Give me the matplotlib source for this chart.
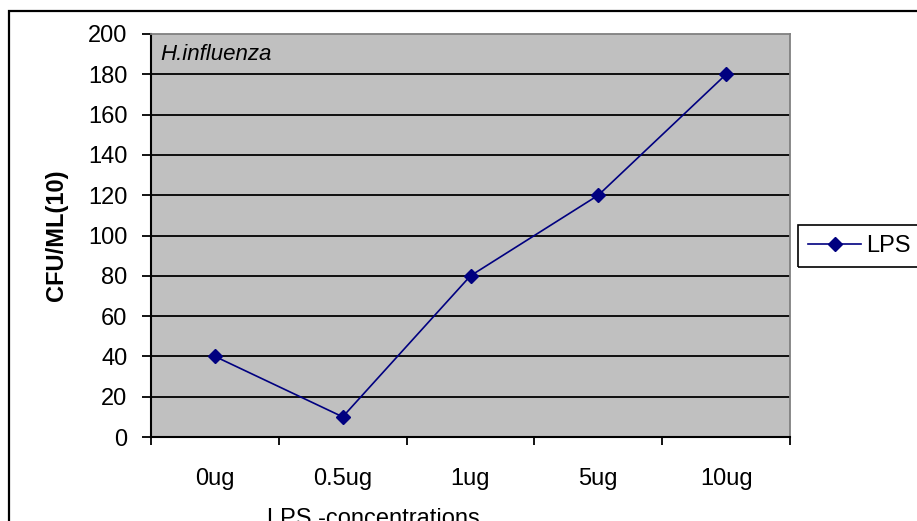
import matplotlib
matplotlib.use("Agg")
import matplotlib.pyplot as plt
from matplotlib.patches import Rectangle
from matplotlib.ticker import FixedLocator, NullFormatter

plt.rcParams['font.family'] = ['Liberation Sans', 'DejaVu Sans']

categories = ["0ug", "0.5ug", "1ug", "5ug", "10ug"]
lps_values = [40, 10, 80, 120, 180]
y_ticks = [0, 20, 40, 60, 80, 100, 120, 140, 160, 180, 200]

W, H = 917, 521
FS = 17
fig = plt.figure(figsize=(W / 100, H / 100), dpi=100)

# chart frame
fig.patches.append(Rectangle((8.5 / W, -0.2), 1.2, 1 - 11 / H + 0.2,
                             transform=fig.transFigure, fill=False,
                             edgecolor='black', linewidth=1.6))

ax = fig.add_axes([151 / W, 1 - 437 / H, (790 - 151) / W, (437 - 34) / H])
ax.set_facecolor('#C0C0C0')

xpos = [i + 0.5 for i in range(len(categories))]
ax.plot(xpos, lps_values, color='#000080', linewidth=1.2, marker='D',
        markersize=7, label='LPS', zorder=3)

ax.set_xlim(0, len(categories))
ax.set_ylim(0, 200)
ax.set_yticks(y_ticks)
for yv in y_ticks[1:-1]:
    ax.axhline(yv, color='black', linewidth=1.3, zorder=1)

ax.xaxis.set_major_locator(FixedLocator(range(len(categories) + 1)))
ax.xaxis.set_major_formatter(NullFormatter())
ax.xaxis.set_minor_locator(FixedLocator(xpos))
ax.set_xticklabels(categories, minor=True)
ax.tick_params(axis='x', which='major', direction='out', length=6, width=1.3)
ax.tick_params(axis='x', which='minor', length=0, pad=22, labelsize=FS)
ax.tick_params(axis='y', direction='out', length=6.5, width=1.3, pad=10.5,
               labelsize=FS)

for side in ('top', 'right'):
    ax.spines[side].set_color('#808080')
    ax.spines[side].set_linewidth(1.3)
for side in ('left', 'bottom'):
    ax.spines[side].set_color('black')
    ax.spines[side].set_linewidth(1.5)

ax.text(160 / W, 1 - 44 / H, 'H.influenza', transform=fig.transFigure,
        style='italic', fontsize=16, ha='left', va='top')

ax.set_ylabel('CFU/ML(10)', fontsize=FS, fontweight='bold', labelpad=14)
fig.text(267 / W, 1 - 525 / H, 'LPS -concentrations', fontsize=FS,
         ha='left', va='baseline')

# legend box running off the right edge
fig.patches.append(Rectangle((798 / W, 1 - 267 / H), 130 / W, 42 / H,
                             transform=fig.transFigure, fill=False,
                             edgecolor='black', linewidth=1.2))
fig.legend(loc='center left', bbox_to_anchor=(808 / W, 1 - 246 / H),
           fontsize=FS, frameon=False, handlelength=2.25, borderpad=0,
           handletextpad=0.2, borderaxespad=0)

fig.savefig('out.png', dpi=100)
